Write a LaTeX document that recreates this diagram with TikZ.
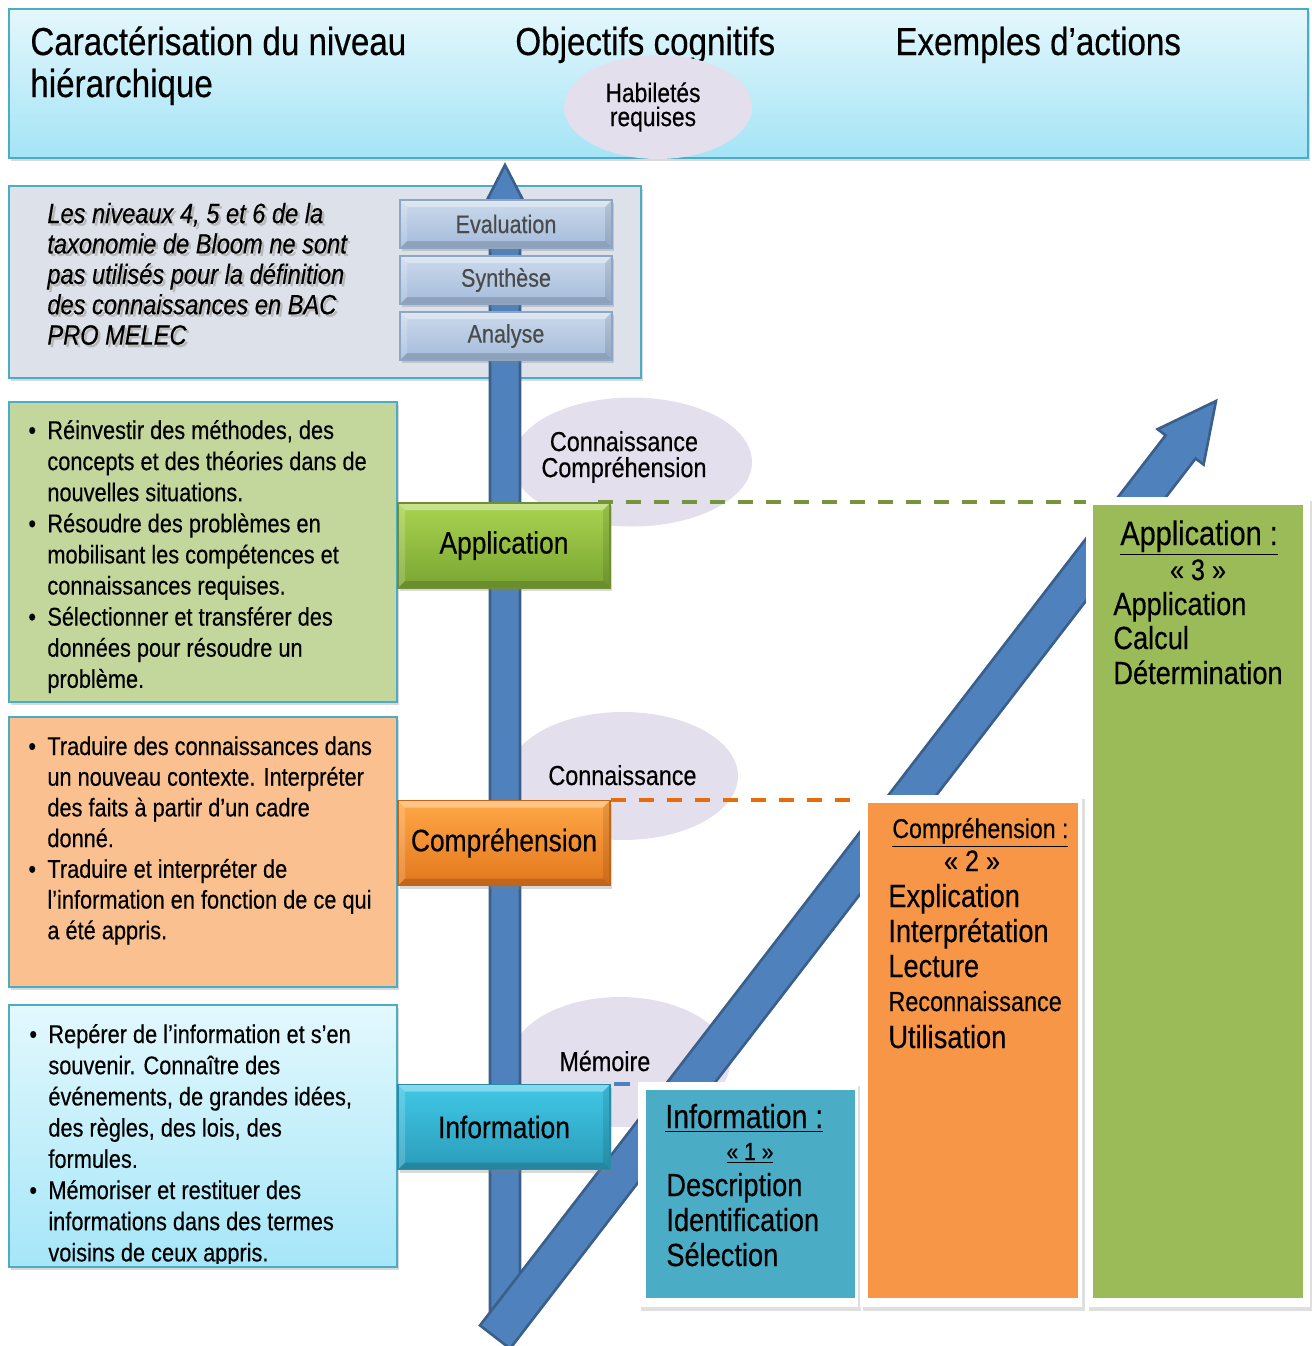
\documentclass[tikz,border=0pt]{standalone}
\usepackage{fontspec}
\setmainfont{Liberation Sans}[FakeStretch=0.85,FakeBold=0.35]
\usetikzlibrary{shapes.geometric,shadows,calc}
\definecolor{hdTop}{HTML}{E4F7FC}
\definecolor{hdBot}{HTML}{A4E4F6}
\definecolor{cyanB}{HTML}{4BACC6}
\definecolor{greyBox}{HTML}{DDE2EA}
\definecolor{smTop}{HTML}{CCDAEC}
\definecolor{smBot}{HTML}{A3BBDA}
\definecolor{smBorder}{HTML}{8DA6C8}
\definecolor{smText}{HTML}{4A4A4A}
\definecolor{greenL}{HTML}{C3D69B}
\definecolor{orangeL}{HTML}{FAC090}
\definecolor{blueTop}{HTML}{E3F8FD}
\definecolor{blueBot}{HTML}{A5E6F8}
\definecolor{lav}{HTML}{E4DFEC}
\definecolor{arrowFill}{HTML}{4F81BD}
\definecolor{arrowLine}{HTML}{3A5F8B}
\definecolor{appTop}{HTML}{A9D450}
\definecolor{appBot}{HTML}{7AA532}
\definecolor{appBorder}{HTML}{6F8F36}
\definecolor{compTop}{HTML}{FFA848}
\definecolor{compBot}{HTML}{E3771C}
\definecolor{compBorder}{HTML}{C0651A}
\definecolor{infoTop}{HTML}{40C8E6}
\definecolor{infoBot}{HTML}{2A9CBA}
\definecolor{infoBorder}{HTML}{2A8CA6}
\definecolor{colInfo}{HTML}{4BACC6}
\definecolor{colComp}{HTML}{F79646}
\definecolor{colApp}{HTML}{9BBB59}
\definecolor{dashGreen}{HTML}{77933C}
\definecolor{dashOrange}{HTML}{E46C0A}
\definecolor{dashBlue}{HTML}{4F81BD}
\newcommand\fs[2]{\fontsize{#1pt}{#2pt}\selectfont}
\newcommand\bul[1]{\makebox[9.5pt][l]{\textbullet}#1}
\newcommand\cnt[1]{\hspace*{9.5pt}#1}
\begin{document}
\begin{tikzpicture}[x=0.5pt,y=-0.5pt,
  box/.style={rectangle,inner sep=0pt,anchor=north west},
  shad/.style={drop shadow={opacity=0.3,shadow xshift=1pt,shadow yshift=-1.5pt}},
  lbl/.style={inner sep=0pt,anchor=base west},
  ctr/.style={inner sep=0pt,anchor=base},
  ell/.style={ellipse,fill=lav,inner sep=0pt},
  arrowst/.style={fill=arrowFill,draw=arrowLine,line width=1.3pt,line join=miter},
  bevel/.style={path picture={
    \fill[white,opacity=0.35] (path picture bounding box.north west) -- (path picture bounding box.north east)
      -- ++(-3.5pt,-3.5pt) -- ($(path picture bounding box.north west)+(3.5pt,-3.5pt)$) -- cycle;
    \fill[white,opacity=0.18] (path picture bounding box.north west) -- (path picture bounding box.south west)
      -- ++(3.5pt,3.5pt) -- ($(path picture bounding box.north west)+(3.5pt,-3.5pt)$) -- cycle;
    \fill[black,opacity=0.15] (path picture bounding box.south west) -- (path picture bounding box.south east)
      -- ++(-3.5pt,3.5pt) -- ($(path picture bounding box.south west)+(3.5pt,3.5pt)$) -- cycle;
    \fill[black,opacity=0.1] (path picture bounding box.north east) -- (path picture bounding box.south east)
      -- ++(-3.5pt,3.5pt) -- ($(path picture bounding box.north east)+(-3.5pt,-3.5pt)$) -- cycle;}},
  smbox/.style={rectangle,inner sep=0pt,minimum width=212*0.5pt,minimum height=48*0.5pt,
    top color=smTop,bottom color=smBot,draw=smBorder,line width=0.6pt,text=smText,font=\fs{12.7}{14},shad,bevel},
  lvl/.style={rectangle,inner sep=0pt,minimum width=212*0.5pt,minimum height=85*0.5pt,
    font=\fs{15.5}{17},line width=0.7pt,shad,bevel},
  lbox/.style={box,draw=cyanB,line width=0.8pt,shad},
  dline/.style={line width=2pt,dash pattern=on 7.5pt off 6.5pt},
  frame/.style={box,fill=white,drop shadow={opacity=0.25,shadow xshift=1.5pt,shadow yshift=-2pt}},
  colt/.style={inner sep=0pt,anchor=base west,font=\fs{16}{18}}
]
\useasboundingbox (0,0) rectangle (1312,1346);

% header
\node[box,shad,draw=cyanB,line width=0.8pt,top color=hdTop,bottom color=hdBot,
  minimum width=1299*0.5pt,minimum height=149*0.5pt] (header) at (8,8) {};
\node[lbl,font=\fs{19.5}{21}] (h1) at (30,55) {Caractérisation du niveau};
\node[lbl,font=\fs{19.5}{21}] (h1b) at (30,97) {hiérarchique};
\node[lbl,font=\fs{19.5}{21}] (h2) at (515,55) {Objectifs cognitifs};
\node[lbl,font=\fs{19.5}{21}] (h3) at (895,55) {Exemples d’actions};
\node[ell,minimum width=188*0.5pt,minimum height=104*0.5pt] (hab) at (658,107) {};
\node[align=center,font=\fs{13.4}{12},inner sep=0pt] (habt) at (653,107) {Habiletés\\requises};

% grey box
\node[lbox,fill=greyBox,minimum width=632*0.5pt,minimum height=192*0.5pt] (grey) at (8,185) {};
\node[lbl,font=\fs{13.9}{15.2}\itshape,text=black!28] (greyts) at (49.5,225.5)
  {\parbox[t]{200pt}{\raggedright Les niveaux 4, 5 et 6 de la\\taxonomie de Bloom ne sont\\pas utilisés pour la définition\\des connaissances en BAC\\PRO MELEC}};
\node[lbl,font=\fs{13.9}{15.2}\itshape] (greyt) at (47,223)
  {\parbox[t]{200pt}{\raggedright Les niveaux 4, 5 et 6 de la\\taxonomie de Bloom ne sont\\pas utilisés pour la définition\\des connaissances en BAC\\PRO MELEC}};

% left boxes
\node[lbox,fill=greenL,minimum width=388*0.5pt,minimum height=300*0.5pt] (gbox) at (8,401) {};
\node[lbl,font=\fs{12.8}{15.55}] (gtxt) at (28,439)
  {\parbox[t]{200pt}{\raggedright
   \bul{Réinvestir des méthodes, des}\\
   \cnt{concepts et des théories dans de}\\
   \cnt{nouvelles situations.}\\
   \bul{Résoudre des problèmes en}\\
   \cnt{mobilisant les compétences et}\\
   \cnt{connaissances requises.}\\
   \bul{Sélectionner et transférer des}\\
   \cnt{données pour résoudre un}\\
   \cnt{problème.}}};

\node[lbox,fill=orangeL,minimum width=388*0.5pt,minimum height=270*0.5pt] (obox) at (8,716) {};
\node[lbl,font=\fs{12.8}{15.35}] (otxt) at (28,755)
  {\parbox[t]{200pt}{\raggedright
   \bul{Traduire des connaissances dans}\\
   \cnt{un nouveau contexte. Interpréter}\\
   \cnt{des faits à partir d’un cadre}\\
   \cnt{donné.}\\
   \bul{Traduire et interpréter de}\\
   \cnt{l'information en fonction de ce qui}\\
   \cnt{a été appris.}}};

\node[lbox,top color=blueTop,bottom color=blueBot,minimum width=388*0.5pt,minimum height=262*0.5pt] (bbox) at (8,1004) {};
\begin{scope}
\clip (9,1005) rectangle (395,1263);
\node[lbl,font=\fs{12.8}{15.6}] (btxt) at (29,1043)
  {\parbox[t]{200pt}{\raggedright
   \bul{Repérer de l’information et s’en}\\
   \cnt{souvenir. Connaître des}\\
   \cnt{événements, de grandes idées,}\\
   \cnt{des règles, des lois, des}\\
   \cnt{formules.}\\
   \bul{Mémoriser et restituer des}\\
   \cnt{informations dans des termes}\\
   \cnt{voisins de ceux appris.}}};
\end{scope}

% ellipses
\node[ell,minimum width=240*0.5pt,minimum height=129*0.5pt] (e1) at (632,462) {};
\node[ell,minimum width=230*0.5pt,minimum height=128*0.5pt] (e2) at (623,776) {};
\node[ell,minimum width=220*0.5pt,minimum height=130*0.5pt] (e3) at (620,1062) {};

% vertical arrow
\coordinate (vb) at (505,1313);
\coordinate (vt) at (505,165);
\draw[arrowst] ($(vb)+(-15,0)$) -- ($(vt)+(-15,35)$) -- ($(vt)+(-18,35)$) -- (vt)
  -- ($(vt)+(18,35)$) -- ($(vt)+(15,35)$) -- ($(vb)+(15,0)$) -- cycle;

% small boxes
\node[smbox] (eval) at (506,224) {Evaluation};
\node[smbox] (synth) at (506,280) {Synthèse};
\node[smbox] (anal) at (506,336) {Analyse};

% diagonal arrow
\coordinate (ds) at (495,1337);
\coordinate (dt) at (1216,401);
\draw[arrowst] (510.1,1348.6) -- (1195.6,458.5) -- (1203.6,464.6) -- (dt)
  -- (1157.6,429.2) -- (1165.6,435.3) -- (480,1325.4) -- cycle;

% ellipse texts
\node[align=center,font=\fs{13.75}{13},inner sep=0pt] (e1t) at (624,457) {Connaissance\\Compréhension};
\node[lbl,font=\fs{13.75}{13}] (e2t) at (548,785) {Connaissance};
\node[lbl,font=\fs{13.75}{13}] (e3t) at (559,1071) {Mémoire};

% level boxes
\node[lvl,top color=appTop,bottom color=appBot,draw=appBorder] (app) at (504,545.5) {Application};
\node[lvl,top color=compTop,bottom color=compBot,draw=compBorder] (comp) at (504,843) {Compréhension};
\node[lvl,top color=infoTop,bottom color=infoBot,draw=infoBorder] (info) at (504,1127) {Information};

% right columns
\node[frame,minimum width=220*0.5pt,minimum height=225*0.5pt] (infoframe) at (638,1082) {};
\node[box,fill=colInfo,minimum width=209*0.5pt,minimum height=208*0.5pt] (infocol) at (646,1090) {};
\node[frame,minimum width=222*0.5pt,minimum height=512*0.5pt] (compframe) at (860,795) {};
\node[box,fill=colComp,minimum width=210*0.5pt,minimum height=495*0.5pt] (compcol) at (868,803) {};
\node[frame,minimum width=224*0.5pt,minimum height=810*0.5pt] (appframe) at (1086,497) {};
\node[box,fill=colApp,minimum width=210*0.5pt,minimum height=793*0.5pt] (appcol) at (1093,505) {};

% dashed connectors
\draw[dline,draw=dashGreen] ($(app.north east)+(-13,0)$) -- (appframe.west |- app.north east);
\draw[dline,draw=dashOrange] (comp.north east) -- (compframe.west |- comp.north east);
\draw[line width=2pt,draw=dashBlue,dash pattern=on 0pt off 1.5pt on 8pt off 20pt] (info.north east) -- (infoframe.west |- info.north east);

% info column texts
\node[lbl,font=\fs{16.7}{18}] (i1) at (665,1128) {\underline{Information :}};
\node[ctr,font=\fs{12.4}{14}] (i2) at (750,1160) {\underline{« 1 »}};
\node[colt] (i3) at (666,1196) {Description};
\node[colt] (i4) at (666,1231) {Identification};
\node[colt] (i5) at (666,1266) {Sélection};

% comp column texts
\node[lbl,font=\fs{13.6}{15}] (c1) at (892,838) {\underline{Compréhension :}};
\node[ctr,font=\fs{14.8}{16}] (c2) at (972,871) {« 2 »};
\node[colt] (c3) at (888,907) {Explication};
\node[colt] (c4) at (888,942) {Interprétation};
\node[colt] (c5) at (888,977) {Lecture};
\node[lbl,font=\fs{13.8}{15}] (c6) at (888,1011) {Reconnaissance};
\node[colt] (c7) at (888,1048) {Utilisation};

% app column texts
\node[lbl,font=\fs{17}{18}] (a1) at (1120,545) {\underline{Application :}};
\node[ctr,font=\fs{14.8}{16}] (a2) at (1198,580) {« 3 »};
\node[colt] (a3) at (1113,615) {Application};
\node[colt] (a4) at (1113,649) {Calcul};
\node[colt] (a5) at (1113,684) {Détermination};
\end{tikzpicture}
\end{document}
